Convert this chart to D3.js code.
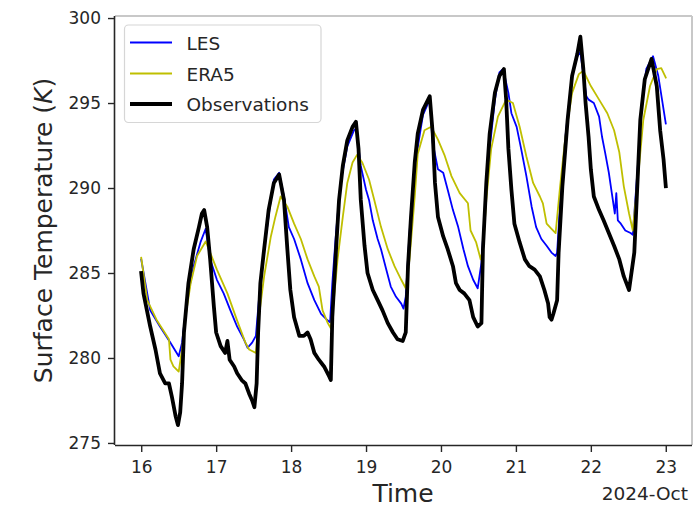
<!DOCTYPE html>
<html>
<head>
<meta charset="utf-8">
<script src="https://cdn.jsdelivr.net/npm/d3@7"></script>
<style>
  html, body { margin: 0; padding: 0; background: #fff; }
  svg text { font-family: "DejaVu Sans", sans-serif; fill: #262626; }
</style>
</head>
<body>
<svg id="chart" width="693" height="507"></svg>
<script>
// ---- data (day of October 2024, surface temperature in K) ----
const obsTime = [16.00,16.03,16.12,16.19,16.25,16.32,16.37,16.41,16.46,16.49,16.52,16.545,16.57,16.63,16.70,16.77,16.81,16.84,16.88,16.92,16.97,17.00,17.06,17.12,17.15,17.18,17.24,17.28,17.34,17.39,17.44,17.48,17.51,17.54,17.56,17.59,17.64,17.70,17.77,17.84,17.905,17.95,17.99,18.04,18.11,18.17,18.22,18.26,18.31,18.37,18.44,18.51,18.53,18.55,18.60,18.64,18.69,18.75,18.82,18.865,18.90,18.93,18.98,19.02,19.09,19.155,19.22,19.29,19.36,19.42,19.49,19.53,19.56,19.60,19.65,19.69,19.76,19.85,19.89,19.92,19.96,20.03,20.09,20.16,20.20,20.25,20.31,20.38,20.43,20.49,20.54,20.56,20.605,20.65,20.72,20.78,20.84,20.87,20.90,20.94,20.98,21.05,21.12,21.18,21.25,21.32,21.38,21.43,21.45,21.475,21.50,21.55,21.57,21.62,21.69,21.75,21.82,21.86,21.90,21.93,21.97,22.00,22.04,22.11,22.17,22.24,22.31,22.38,22.44,22.51,22.58,22.62,22.66,22.72,22.81,22.88,22.925,22.97,23.00];
const obsTemp = [285.0,283.8,281.85,280.5,279.1,278.5,278.5,277.7,276.55,276.05,276.8,278.5,281.5,284.4,286.4,287.7,288.5,288.7,287.7,285.8,283.0,281.5,280.7,280.3,281.0,279.9,279.5,279.1,278.7,278.5,277.9,277.5,277.1,278.5,281.5,284.4,286.4,288.7,290.3,290.8,289.3,286.4,284.0,282.4,281.3,281.3,281.5,281.1,280.3,279.9,279.5,278.9,278.7,282.4,286.4,289.3,291.3,292.8,293.6,293.9,292.3,289.3,286.6,285.0,284.0,283.4,282.8,282.05,281.5,281.1,281.0,281.5,285.4,288.3,291.5,293.2,294.6,295.4,293.2,290.3,288.3,287.15,286.4,285.4,284.4,284.0,283.8,283.4,282.4,281.85,282.05,286.4,290.3,293.2,295.6,296.6,297.0,295.2,292.3,289.9,287.9,286.8,285.8,285.4,285.2,284.8,284.0,283.2,282.4,282.25,282.6,283.4,286.2,290.1,294.0,296.6,297.9,298.9,297.0,295.0,293.0,291.1,289.5,288.7,288.1,287.35,286.6,285.8,284.8,284.0,286.2,290.1,294.0,296.4,297.6,296.0,293.4,291.7,290.1];

const lesTime = [16.00,16.12,16.25,16.39,16.50,16.545,16.61,16.70,16.79,16.86,16.92,17.01,17.10,17.19,17.28,17.37,17.42,17.48,17.53,17.57,17.64,17.73,17.77,17.84,17.905,17.97,18.04,18.13,18.22,18.31,18.40,18.49,18.52,18.55,18.60,18.66,18.75,18.84,18.87,18.93,19.00,19.04,19.09,19.155,19.20,19.27,19.33,19.40,19.47,19.50,19.53,19.58,19.65,19.76,19.85,19.89,19.96,20.03,20.09,20.16,20.23,20.30,20.36,20.43,20.49,20.54,20.58,20.65,20.72,20.78,20.83,20.90,20.94,21.01,21.07,21.14,21.21,21.27,21.34,21.41,21.475,21.53,21.55,21.59,21.66,21.75,21.82,21.86,21.94,21.97,22.04,22.11,22.15,22.19,22.24,22.28,22.32,22.34,22.36,22.40,22.46,22.53,22.56,22.59,22.64,22.68,22.74,22.83,22.90,22.95,23.00];
const lesTemp = [285.8,282.8,281.85,280.9,280.1,280.9,283.4,285.4,286.8,287.6,285.8,284.6,283.8,282.8,281.85,281.1,280.6,280.9,281.3,283.4,286.4,289.3,290.5,290.9,289.5,287.7,287.0,285.8,284.4,283.4,282.6,282.2,282.1,284.4,287.4,290.3,292.45,293.4,293.5,291.3,289.9,289.3,288.1,287.0,286.4,285.2,284.2,283.6,283.2,282.9,283.6,287.35,291.3,294.3,295.2,292.65,291.1,290.9,289.9,288.7,287.7,286.4,285.4,284.6,284.1,285.6,288.3,292.3,295.2,296.8,297.0,295.6,294.4,293.6,292.3,290.7,288.9,287.7,287.0,286.6,286.2,286.0,286.2,289.1,293.0,296.6,297.75,298.0,295.4,295.2,295.0,294.2,293.0,292.1,290.9,289.7,288.5,289.7,288.1,287.9,287.5,287.35,287.25,289.1,292.1,295.0,297.0,297.75,296.6,295.2,293.8];

const eraTime = [16.00,16.08,16.21,16.37,16.39,16.43,16.50,16.545,16.59,16.66,16.745,16.86,16.92,17.01,17.15,17.28,17.39,17.44,17.53,17.57,17.64,17.73,17.79,17.86,17.95,18.04,18.13,18.22,18.31,18.37,18.42,18.49,18.53,18.57,18.62,18.69,18.75,18.82,18.88,18.95,19.04,19.11,19.20,19.29,19.38,19.47,19.53,19.58,19.65,19.69,19.78,19.87,19.96,20.05,20.14,20.25,20.36,20.395,20.47,20.53,20.56,20.605,20.67,20.76,20.87,20.96,21.05,21.14,21.23,21.32,21.36,21.41,21.475,21.53,21.59,21.66,21.75,21.84,21.90,22.00,22.11,22.22,22.31,22.38,22.44,22.51,22.56,22.59,22.64,22.70,22.79,22.88,22.94,23.00];
const eraTemp = [285.9,283.4,282.2,281.1,279.9,279.5,279.2,280.5,282.4,284.4,286.0,286.85,286.2,285.2,283.8,282.2,280.9,280.5,280.3,282.4,284.8,287.15,288.3,289.5,288.9,287.9,287.0,285.8,284.8,284.2,282.8,282.05,281.75,283.4,285.8,288.3,290.3,291.5,291.95,291.5,290.5,289.3,287.7,286.4,285.4,284.6,284.1,285.8,289.5,292.0,293.4,293.6,292.85,291.9,290.7,289.7,289.1,287.5,286.8,285.8,286.4,289.3,292.3,294.2,295.2,295.0,293.6,291.85,290.3,289.5,289.1,287.9,287.6,287.35,290.1,293.0,295.6,296.7,296.9,296.0,295.2,294.4,293.4,292.1,290.1,288.5,287.5,288.9,291.1,294.0,296.0,297.0,297.05,296.5];

const xTicks = [16,17,18,19,20,21,22,23];
const yTicks = [275,280,285,290,295,300];
const seriesNames = ["LES","ERA5","Observations"];
const seriesColors = ["#0000ff","#bfbf00","#000000"];

// ---- layout ----
const svg = d3.select("#chart");
const L = 115, R = 692, T = 16, B = 445;
const x = d3.scaleLinear().domain([15.65, 23.35]).range([L, R]);
const y = d3.scaleLinear().domain([274.88, 300.12]).range([B, T]);

const series = [
  {name: seriesNames[0], color: seriesColors[0], w: 1.8, pts: d3.zip(lesTime, lesTemp)},
  {name: seriesNames[1], color: seriesColors[1], w: 1.8, pts: d3.zip(eraTime, eraTemp)},
  {name: seriesNames[2], color: seriesColors[2], w: 3.8, pts: d3.zip(obsTime, obsTemp)}
];

const line = d3.line().x(d => x(d[0])).y(d => y(d[1]));

const plot = svg.append("g");
series.forEach(s => {
  plot.append("path").datum(s.pts)
    .attr("d", line)
    .attr("fill", "none")
    .attr("stroke", s.color)
    .attr("stroke-width", s.w)
    .attr("stroke-linejoin", "round")
    .attr("stroke-linecap", "square");
});

// frame: top/right light, left/bottom dark
svg.append("line").attr("x1", L).attr("x2", R).attr("y1", T).attr("y2", T)
  .attr("stroke", "#c8c8c8").attr("stroke-width", 2);
svg.append("line").attr("x1", R).attr("x2", R).attr("y1", T).attr("y2", B)
  .attr("stroke", "#c8c8c8").attr("stroke-width", 2);

const xAxis = svg.append("g").attr("transform", `translate(0,${B})`)
  .call(d3.axisBottom(x).tickValues(xTicks).tickFormat(d3.format("d")).tickSize(7).tickPadding(8.5));
const yAxis = svg.append("g").attr("transform", `translate(${L},0)`)
  .call(d3.axisLeft(y).tickValues(yTicks).tickFormat(d3.format("d")).tickSize(7).tickPadding(7));
[xAxis, yAxis].forEach(a => {
  a.select(".domain").attr("stroke", "#262626").attr("stroke-width", 1.6);
  a.selectAll(".tick line").attr("stroke", "#262626").attr("stroke-width", 1.4);
  a.selectAll(".tick text").attr("font-family", "DejaVu Sans").attr("font-size", 17).attr("fill", "#262626");
});
xAxis.select(".domain").attr("d", `M${L},0.5H${R}`);
yAxis.select(".domain").attr("d", `M-0.5,${B}V${T}`);

// axis labels
svg.append("text").attr("x", 403).attr("y", 502).attr("text-anchor", "middle")
  .attr("font-size", 25).text("Time");
svg.append("text").attr("x", 688).attr("y", 500).attr("text-anchor", "end")
  .attr("font-size", 18.5).text("2024-Oct");
const yl = svg.append("text").attr("transform", "translate(52,230.5) rotate(-90)")
  .attr("text-anchor", "middle").attr("font-size", 25);
yl.append("tspan").text("Surface Temperature (");
yl.append("tspan").attr("font-style", "italic").text("K");
yl.append("tspan").text(")");

// legend
const lg = svg.append("g");
lg.append("rect").attr("x", 124.5).attr("y", 25).attr("width", 196.5).attr("height", 97.5)
  .attr("rx", 4).attr("fill", "#fff").attr("fill-opacity", 0.85)
  .attr("stroke", "#d6d6d6").attr("stroke-width", 1.2);
const legY = [42.5, 73.5, 104];
series.forEach((s, i) => {
  lg.append("line").attr("x1", 130).attr("x2", 172).attr("y1", legY[i]).attr("y2", legY[i])
    .attr("stroke", s.color).attr("stroke-width", s.w);
  lg.append("text").attr("x", 186.5).attr("y", legY[i] + 7).attr("font-size", 18.5).text(s.name);
});
</script>
</body>
</html>
